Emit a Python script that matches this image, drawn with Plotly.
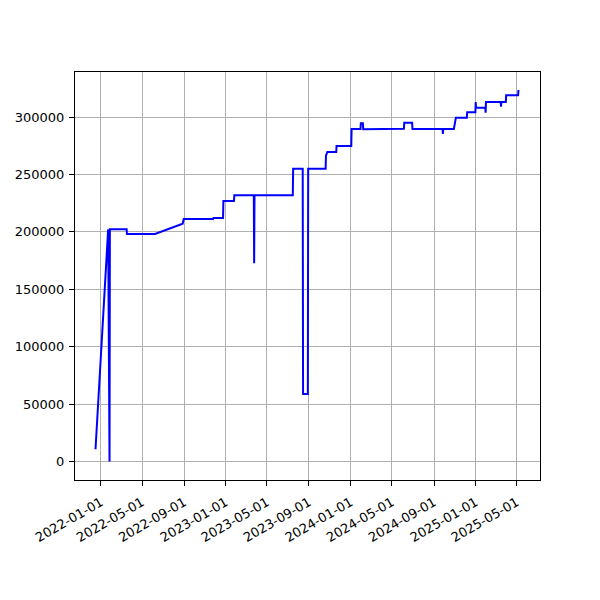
import plotly.graph_objects as go

dates = [
    "2021-12-16", "2022-01-22", "2022-01-26", "2022-01-27", "2022-03-17", "2022-03-18",
    "2022-06-08", "2022-08-28", "2022-08-31", "2022-11-25", "2022-11-26", "2022-12-24",
    "2022-12-25", "2023-01-25", "2023-01-26", "2023-03-24", "2023-03-25", "2023-03-26",
    "2023-07-16", "2023-07-17", "2023-08-14", "2023-08-15", "2023-08-29", "2023-08-30",
    "2023-10-20", "2023-10-21", "2023-10-25", "2023-11-20", "2023-11-21", "2024-01-03",
    "2024-01-04", "2024-01-30", "2024-01-31", "2024-02-06", "2024-02-07", "2024-03-10",
    "2024-06-05", "2024-06-06", "2024-06-29", "2024-06-30", "2024-09-26", "2024-09-27",
    "2024-09-28", "2024-10-29", "2024-11-04", "2024-12-06", "2024-12-07", "2024-12-31",
    "2025-01-01", "2025-01-02", "2025-01-29", "2025-01-30", "2025-01-31", "2025-03-15",
    "2025-03-16", "2025-03-17", "2025-03-30", "2025-03-31", "2025-05-05", "2025-05-06",
]
values = [
    10600, 202200, 0, 202200, 202200, 198100,
    198100, 207100, 211200, 211200, 212000, 212000,
    226800, 226800, 231800, 231800, 172600, 231800,
    231800, 255000, 255000, 58800, 58800, 255000,
    255000, 266300, 269500, 269500, 274800, 274800,
    289500, 289500, 294500, 294500, 289300, 289500,
    289700, 295000, 295000, 289500, 289500, 285200,
    289500, 289500, 299400, 299400, 304100, 304100,
    313000, 308100, 308100, 303700, 313000, 313000,
    309000, 313000, 313000, 318900, 318900, 323500,
]

tick_dates = ["2022-01-01", "2022-05-01", "2022-09-01", "2023-01-01", "2023-05-01",
              "2023-09-01", "2024-01-01", "2024-05-01", "2024-09-01", "2025-01-01",
              "2025-05-01"]
y_ticks = [0, 50000, 100000, 150000, 200000, 250000, 300000]

fig = go.Figure()
fig.add_trace(go.Scatter(x=dates, y=values, mode="lines",
                         line=dict(color="#0000ff", width=2)))

axis_common = dict(
    showline=True, linecolor="black", linewidth=1, mirror=True,
    showgrid=True, gridcolor="#b0b0b0", gridwidth=1,
    ticks="outside", ticklen=5, tickcolor="black", tickwidth=1,
    zeroline=False, automargin=False,
    tickfont=dict(family="DejaVu Sans", size=13, color="black"),
)

fig.update_layout(
    width=600, height=600,
    margin=dict(l=67, r=68, t=64, b=128),
    paper_bgcolor="white", plot_bgcolor="white",
    showlegend=False,
    xaxis=dict(type="date", range=["2021-10-17", "2025-07-08"],
               tickvals=tick_dates, ticktext=tick_dates, tickangle=-30,
               ticklabelstandoff=4, **axis_common),
    yaxis=dict(range=[-16200, 339200], tickvals=y_ticks,
               ticktext=[str(v) for v in y_ticks], ticklabelstandoff=2,
               **axis_common),
)

fig.write_html("out.html")
